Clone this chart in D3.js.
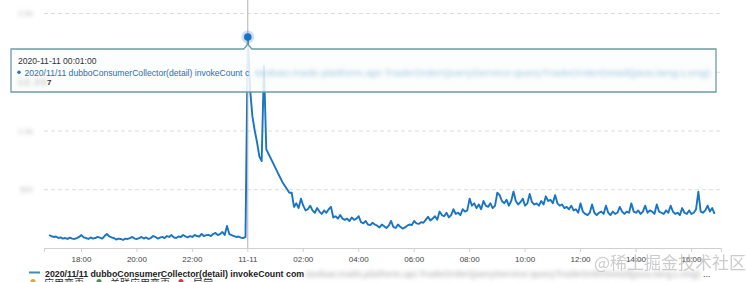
<!DOCTYPE html>
<html>
<head>
<meta charset="utf-8">
<script src="https://cdn.jsdelivr.net/npm/d3@7"></script>
<style>
body { margin: 0; background: #fff; }
svg { display: block; font-family: "Liberation Sans", Arial, sans-serif; }
</style>
</head>
<body>
<script>
// series: one value every 5 minutes, starting 2020-11-10 16:51
const startTime = "2020-11-10 16:51"
const stepMinutes = 5
const values = [
    111, 100, 94, 98, 85, 90, 80, 85, 77, 88, 80, 77, 85,
    94, 110, 90, 85, 77, 90, 80, 85, 94, 88, 80, 102,
    119, 100, 90, 85, 72, 80, 77, 68, 80, 77, 85, 94, 80,
    77, 85, 94, 80, 90, 77, 85, 102, 94, 80, 88, 94,
    85, 102, 94, 110, 90, 85, 98, 94, 111, 98, 90, 102,
    94, 111, 102, 98, 119, 102, 110, 111, 102, 119, 128, 110,
    119, 136, 111, 187, 119, 110, 102, 94, 98, 88, 85, 94,
    1796,
    1350, 1120, 1000, 900, 780, 740, 1550, 840, 800, 760, 720, 680, 640,
    600, 560, 530, 500, 470, 470, 350, 380, 340, 420, 360, 320,
    330, 360, 320, 300, 340, 310, 290, 320, 300, 330, 350, 260,
    270, 250, 280, 250, 240, 250, 230, 260, 240, 250, 270, 220,
    210, 230, 200, 195, 215, 200, 190, 175, 200, 185, 170, 190,
    230, 180, 170, 200, 180, 165, 175, 190, 200, 195, 230, 210,
    205, 220, 215, 240, 265, 235, 250, 270, 240, 310, 280, 270,
    300, 260, 280, 330, 290, 300, 280, 330, 310, 320, 420, 360,
    380, 340, 370, 330, 400, 360, 350, 380, 340, 360, 470, 450,
    400, 380, 410, 360, 400, 480, 400, 370, 390, 420, 360, 380,
    460, 390, 370, 380, 360, 400, 370, 440, 400, 410, 380, 450,
    380, 360, 370, 340, 350, 330, 360, 320, 330, 300, 380, 310,
    290, 280, 300, 370, 300, 280, 300, 310, 290, 360, 300, 280,
    310, 290, 300, 350, 310, 290, 310, 300, 380, 310, 300, 320,
    290, 310, 360, 300, 320, 310, 290, 370, 310, 300, 290, 320,
    300, 360, 310, 290, 300, 280, 340, 300, 290, 320, 290, 300,
    330, 480, 310, 300, 320, 360, 310, 340, 290
]
const hoverIndex = 86
const hoverLabel = "2020-11-11 00:01:00"

const xTicks = ["2020-11-10 18:00", "2020-11-10 20:00", "2020-11-10 22:00", "2020-11-11 00:00",
                "2020-11-11 02:00", "2020-11-11 04:00", "2020-11-11 06:00", "2020-11-11 08:00",
                "2020-11-11 10:00", "2020-11-11 12:00", "2020-11-11 14:00", "2020-11-11 16:00"]
const xTickLabels = ["18:00", "20:00", "22:00", "11-11", "02:00", "04:00", "06:00", "08:00",
                     "10:00", "12:00", "14:00", "16:00"]
const yTicks = [0, 500, 1000, 1500, 2000]
const yTickLabels = ["", "500", "1.0k", "1.5k", "2.0k"]

const seriesName = "2020/11/11 dubboConsumerCollector(detail) invokeCount com"
const seriesHidden = ".taobao.trade.platform.api.TradeOrderQueryService:queryTradeOrderDetail(java.lang.Long)"
const eventTypes = ["应用变更", "关联应用变更", "异常"]

const w = 746
const h = 282
const lineColor = "#1a74c4"
const parse = d3.timeParse("%Y-%m-%d %H:%M")

let t0 = parse(startTime)
let data = values.map(function(v, i) {
    return {t: d3.timeMinute.offset(t0, i * stepMinutes), v: v}
})

let svg = d3.select("body")
            .append("svg")
            .attr("width", w)
            .attr("height", h)

let defs = svg.append("defs")
defs.append("filter").attr("id", "blur")
    .attr("x", "-10%").attr("y", "-80%").attr("width", "120%").attr("height", "260%")
    .append("feGaussianBlur").attr("stdDeviation", 2.1)

const x = d3.scaleTime()
            .domain([parse("2020-11-10 16:40"), parse("2020-11-11 17:05")])
            .range([44, 721])
const y = d3.scaleLinear()
            .domain([0, 2000])
            .range([248, 13])

//grid lines + blurred y labels
let yAxis = svg.append("g")
               .attr("transform", "translate(44,0)")
               .call(d3.axisLeft(y).tickValues(yTicks).tickSize(-677).tickPadding(11)
                        .tickFormat(function(d, i) {return yTickLabels[i]}))
yAxis.select(".domain").remove()
yAxis.selectAll(".tick line")
     .attr("stroke", "#dcdcdc")
     .attr("stroke-dasharray", "4,3")
yAxis.selectAll(".tick text")
     .attr("fill", "#b5b5b5")
     .attr("font-size", "8px")
     .attr("font-family", "Liberation Sans, Arial, sans-serif")
     .attr("filter", "url(#blur)")

//x axis
let xAxis = svg.append("g")
               .attr("transform", "translate(0,248)")
               .call(d3.axisBottom(x).tickValues(xTicks.map(parse)).tickSize(4).tickPadding(4)
                        .tickFormat(function(d, i) {return xTickLabels[i]}))
xAxis.select(".domain").attr("stroke", "#d0d0d0")
xAxis.selectAll(".tick line").attr("stroke", "#d0d0d0")
xAxis.selectAll(".tick text")
     .attr("fill", "#444")
     .attr("font-size", "8px")
     .attr("font-family", "Liberation Sans, Arial, sans-serif")

//watermark
svg.append("text")
   .text("@稀土掘金技术社区")
   .attr("x", 594)
   .attr("y", 269)
   .attr("font-family", "Noto Sans CJK SC, sans-serif")
   .attr("font-size", "17px")
   .attr("fill", "#aaa")
   .attr("opacity", 0.6)

//series line
let line = d3.line()
             .x(function(d) {return x(d.t)})
             .y(function(d) {return y(d.v)})
svg.append("path")
   .datum(data)
   .attr("d", line)
   .attr("fill", "none")
   .attr("stroke", lineColor)
   .attr("stroke-width", 1.9)
   .attr("stroke-linejoin", "round")

//crosshair + hover point
let hp = data[hoverIndex]
let hx = x(hp.t)
let hy = y(hp.v)
svg.append("line")
   .attr("x1", hx).attr("x2", hx)
   .attr("y1", 0).attr("y2", 248)
   .attr("stroke", "#b0b0b0")
   .attr("stroke-width", 1)

//tooltip
const tip = {x0: 11, x1: 716, y0: 49, y1: 92}
svg.append("path")
   .attr("d", "M" + tip.x0 + "," + tip.y0 + " H" + (hx - 4) + " L" + hx + "," + (tip.y0 - 5) +
              " L" + (hx + 4) + "," + tip.y0 + " H" + tip.x1 + " V" + tip.y1 + " H" + tip.x0 + " Z")
   .attr("fill", "#fbfdfd")
   .attr("fill-opacity", 0.86)
   .attr("stroke", "#6d9ca3")
   .attr("stroke-width", 1.3)

svg.append("circle")
   .attr("cx", hx).attr("cy", hy).attr("r", 6.5)
   .attr("fill", lineColor).attr("opacity", 0.22)
svg.append("circle")
   .attr("cx", hx).attr("cy", hy).attr("r", 3.8)
   .attr("fill", lineColor)

svg.append("text")
   .text(hoverLabel)
   .attr("x", 18).attr("y", 64)
   .attr("font-size", "8.6px")
   .attr("fill", "#333")
svg.append("circle")
   .attr("cx", 19).attr("cy", 72.3).attr("r", 1.7)
   .attr("fill", "#2a6fb0")
svg.append("text")
   .text(seriesName.slice(0, -2))
   .attr("x", 24.5).attr("y", 75.5)
   .attr("font-size", "8.6px")
   .attr("fill", "#2a6fb0")
svg.append("text")
   .text(seriesHidden)
   .attr("x", 252).attr("y", 75.5)
   .attr("font-size", "8.6px")
   .attr("fill", "#9cc4de")
   .attr("textLength", 458)
   .attr("lengthAdjust", "spacingAndGlyphs")
   .attr("filter", "url(#blur)")
svg.append("text")
   .text("12,33")
   .attr("x", 18).attr("y", 85)
   .attr("font-size", "8.6px")
   .attr("fill", "#999")
   .attr("textLength", 28)
   .attr("filter", "url(#blur)")
svg.append("text")
   .text("7")
   .attr("x", 47).attr("y", 85)
   .attr("font-size", "8px")
   .attr("font-weight", "bold")
   .attr("fill", "#333")

//legend
svg.append("line")
   .attr("x1", 29).attr("x2", 40)
   .attr("y1", 272.5).attr("y2", 272.5)
   .attr("stroke", "#3a8db0")
   .attr("stroke-width", 2)
svg.append("text")
   .text(seriesName)
   .attr("x", 45).attr("y", 276.5)
   .attr("font-size", "8.8px")
   .attr("font-weight", "bold")
   .attr("fill", "#222")
svg.append("text")
   .text(seriesHidden)
   .attr("x", 304).attr("y", 276.5)
   .attr("font-size", "8.8px")
   .attr("font-weight", "bold")
   .attr("fill", "#bdbdbd")
   .attr("textLength", 396)
   .attr("lengthAdjust", "spacingAndGlyphs")
   .attr("filter", "url(#blur)")
svg.append("text")
   .text("...")
   .attr("x", 703).attr("y", 276.5)
   .attr("font-size", "8.8px")
   .attr("fill", "#333")

//event legend row (cut off by the bottom edge)
const eventX = [33, 99, 181]
const eventColors = ["#f0a030", "#3a9a4a", "#d03a3a"]
let ev = svg.selectAll(".ev")
            .data(eventTypes)
            .enter()
            .append("g")
            .attr("class", "ev")
            .attr("transform", function(d, i) {return "translate(" + eventX[i] + ",0)"})
ev.append("circle")
  .attr("cx", 0).attr("cy", 281.5).attr("r", 2.5)
  .attr("fill", function(d, i) {return eventColors[i]})
ev.append("text")
  .text(function(d) {return d})
  .attr("x", function(d, i) {return i == 2 ? 12 : 11})
  .attr("y", 287)
  .attr("font-family", "Noto Sans CJK SC, sans-serif")
  .attr("font-size", "10px")
  .attr("fill", "#333")
</script>
</body>
</html>
